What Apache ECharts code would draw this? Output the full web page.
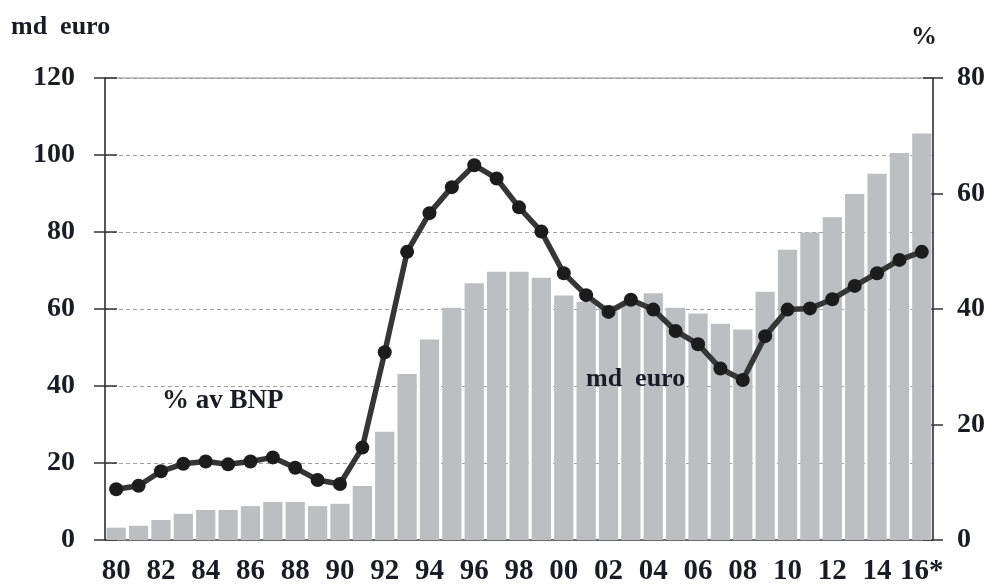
<!DOCTYPE html>
<html>
<head>
<meta charset="utf-8">
<script src="https://cdn.jsdelivr.net/npm/echarts@6/dist/echarts.min.js"></script>
<style>
  html, body { margin: 0; padding: 0; background: #ffffff; }
  #chart { width: 995px; height: 587px; }
</style>
</head>
<body>
<div id="chart"></div>
<script>
// years 1980 - 2016 (2016 is a forecast)
var years = ['80','81','82','83','84','85','86','87','88','89',
             '90','91','92','93','94','95','96','97','98','99',
             '00','01','02','03','04','05','06','07','08','09',
             '10','11','12','13','14','15','16*'];

// bars: billions of euro (left axis)
var mdEuro = [3.2, 3.7, 5.2, 6.8, 7.8, 7.8, 8.8, 9.9, 9.9, 8.8,
              9.4, 14.0, 28.1, 43.1, 52.1, 60.3, 66.7, 69.7, 69.7, 68.1,
              63.5, 61.9, 61.0, 62.0, 64.1, 60.3, 58.8, 56.2, 54.7, 64.5,
              75.4, 79.9, 83.8, 89.9, 95.1, 100.5, 105.6];

// line: percent of GDP (right axis)
var pctBnp = [8.8, 9.4, 11.9, 13.2, 13.6, 13.1, 13.6, 14.3, 12.5, 10.4,
              9.7, 16.0, 32.5, 49.9, 56.6, 61.1, 64.9, 62.6, 57.6, 53.4,
              46.2, 42.4, 39.5, 41.6, 39.9, 36.2, 33.9, 29.7, 27.7, 35.3,
              39.9, 40.1, 41.7, 44.0, 46.2, 48.5, 49.9];

var FONT = '"Liberation Serif", "DejaVu Serif", serif';
var TXT = '#1b1b26';

var chart = echarts.init(document.getElementById('chart'));

var option = {
  animation: false,
  backgroundColor: '#ffffff',
  grid: {
    left: 105, right: 62, top: 78, bottom: 47,
    show: true, borderWidth: 1, borderColor: '#8a8a8a'
  },
  xAxis: {
    type: 'category',
    data: years,
    axisLine: { lineStyle: { color: '#555555', width: 1.5 } },
    axisTick: { show: false },
    axisLabel: {
      interval: 1,
      margin: 17,
      color: TXT,
      fontFamily: FONT,
      fontWeight: 'bold',
      fontSize: 29
    }
  },
  yAxis: [
    {
      type: 'value', position: 'left',
      min: 0, max: 120, interval: 20,
      axisLine: { show: true, lineStyle: { color: '#333333', width: 1.5 } },
      axisTick: { show: true, length: 11, lineStyle: { color: '#333333', width: 1.5 } },
      axisLabel: { margin: 30, color: TXT, fontFamily: FONT, fontWeight: 'bold', fontSize: 28 },
      splitLine: { show: true, lineStyle: { color: '#a0a0a0', type: [4, 3], width: 1 } }
    },
    {
      type: 'value', position: 'right',
      min: 0, max: 80, interval: 20,
      axisLine: { show: true, lineStyle: { color: '#333333', width: 1.5 } },
      axisTick: { show: true, length: 10, lineStyle: { color: '#333333', width: 1.5 } },
      axisLabel: { margin: 24, color: TXT, fontFamily: FONT, fontWeight: 'bold', fontSize: 28 },
      splitLine: { show: false }
    },
    // inner halves of the crossing ticks
    {
      type: 'value', position: 'left',
      min: 0, max: 120, interval: 20,
      axisLine: { show: false },
      axisTick: { show: true, inside: true, length: 12, lineStyle: { color: '#333333', width: 1.5 } },
      axisLabel: { show: false },
      splitLine: { show: false }
    },
    {
      type: 'value', position: 'right',
      min: 0, max: 80, interval: 20,
      axisLine: { show: false },
      axisTick: { show: true, inside: true, length: 10, lineStyle: { color: '#333333', width: 1.5 } },
      axisLabel: { show: false },
      splitLine: { show: false }
    }
  ],
  series: [
    {
      name: 'md euro',
      type: 'bar',
      data: mdEuro,
      yAxisIndex: 0,
      barCategoryGap: '14%',
      itemStyle: { color: '#bcbec1' },
      z: 2
    },
    {
      name: '% av BNP',
      type: 'line',
      data: pctBnp,
      yAxisIndex: 1,
      symbol: 'circle',
      symbolSize: 14,
      lineStyle: { color: '#363636', width: 5.5 },
      itemStyle: { color: '#1c1c1c' },
      z: 5
    }
  ],
  graphic: [
    { type: 'text', left: 11, top: 14, z: 100,
      style: { text: 'md  euro', font: 'bold 26px ' + FONT, fill: TXT } },
    { type: 'text', left: 911, top: 24, z: 100,
      style: { text: '%', font: 'bold 26px ' + FONT, fill: TXT } },
    { type: 'text', left: 162, top: 388, z: 100,
      style: { text: '% av BNP', font: 'bold 27px ' + FONT, fill: TXT } },
    { type: 'text', left: 586, top: 366, z: 100,
      style: { text: 'md  euro', font: 'bold 26px ' + FONT, fill: TXT } }
  ]
};

chart.setOption(option);
</script>
</body>
</html>
